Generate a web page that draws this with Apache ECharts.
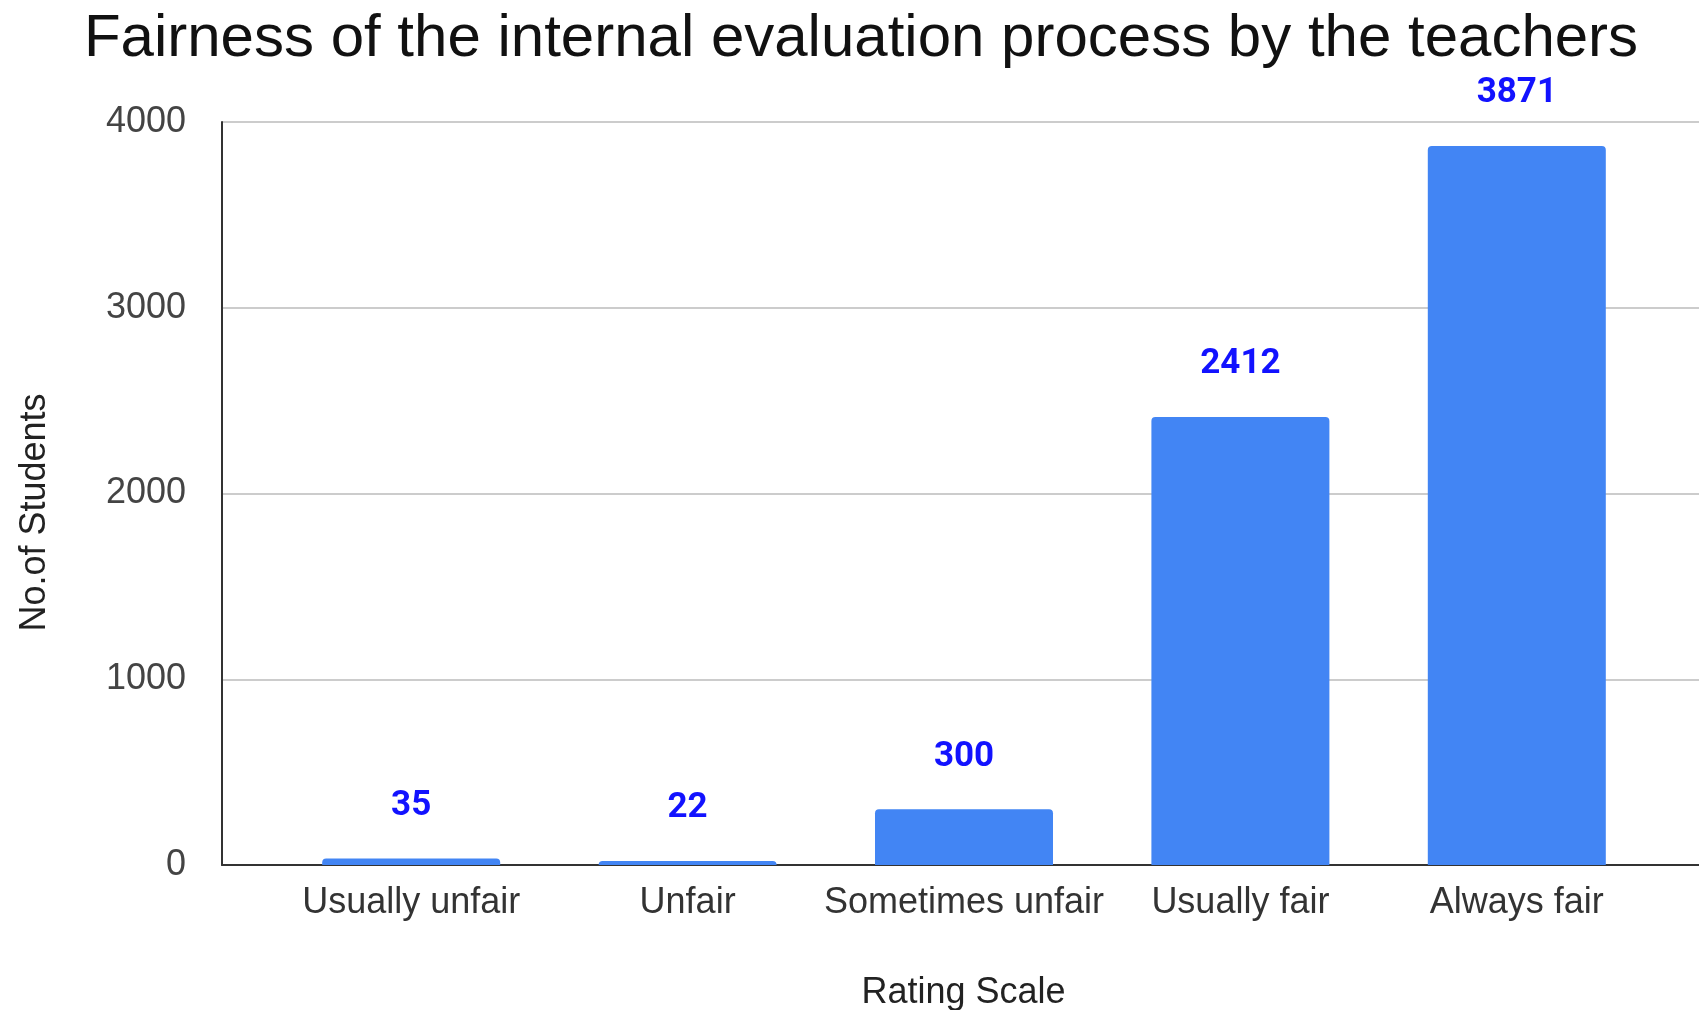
<!DOCTYPE html>
<html>
<head>
<meta charset="utf-8">
<script src="https://cdn.jsdelivr.net/npm/echarts@6/dist/echarts.min.js"></script>
<style>
  html, body { margin: 0; padding: 0; background: #fff; }
  #chart { width: 1699px; height: 1010px; }
</style>
</head>
<body>
<div id="chart"></div>
<script>
const categories = ['Usually unfair', 'Unfair', 'Sometimes unfair', 'Usually fair', 'Always fair'];
const students = [35, 22, 300, 2412, 3871];
const yTicks = [0, 1000, 2000, 3000, 4000];

const myChart = echarts.init(document.getElementById('chart'));
const font = 'Arial, "Liberation Sans", sans-serif';
const option = {
    animation: false,
    title: {
        text: 'Fairness of the internal evaluation process by the teachers',
        left: 856,
        top: 4,
        textAlign: 'center',
        textStyle: { fontFamily: font, fontSize: 60, fontWeight: 'normal', color: '#111' }
    },
    grid: [
        { left: 222, right: 0, top: 122, bottom: 145, outerBoundsMode: 'none', containLabel: false },
        { left: 273, right: 44, top: 122, bottom: 145, outerBoundsMode: 'none', containLabel: false }
    ],
    xAxis: [
        {
            gridIndex: 0,
            type: 'value',
            min: 0,
            max: 1,
            name: 'Rating Scale',
            nameLocation: 'middle',
            nameGap: 110,
            nameTextStyle: { fontFamily: font, fontSize: 36, color: '#222', padding: [0, 0, 0, 6] },
            axisLine: { show: true, onZero: false, lineStyle: { color: '#333', width: 2 } },
            axisTick: { show: false },
            axisLabel: { show: false },
            splitLine: { show: false }
        },
        {
            gridIndex: 1,
            type: 'category',
            data: categories,
            axisLine: { show: false },
            axisTick: { show: false },
            axisLabel: { interval: 0, margin: 20, fontFamily: font, fontSize: 36, color: '#333' }
        }
    ],
    yAxis: [
        {
            gridIndex: 0,
            type: 'value',
            min: yTicks[0],
            max: yTicks[yTicks.length - 1],
            interval: 1000,
            name: 'No.of Students',
            nameLocation: 'middle',
            nameGap: 169,
            nameTextStyle: { fontFamily: font, fontSize: 36, color: '#222', padding: [0, 38, 0, 0] },
            axisLine: { show: true, lineStyle: { color: '#333', width: 2 } },
            axisTick: { show: false },
            axisLabel: {
                margin: 36,
                fontFamily: font,
                fontSize: 36,
                color: '#444',
                formatter: function (v) { return String(v); }
            },
            splitLine: { lineStyle: { color: '#ccc', width: 2 } }
        },
        {
            gridIndex: 1,
            type: 'value',
            min: yTicks[0],
            max: yTicks[yTicks.length - 1],
            interval: 1000,
            show: false,
            splitLine: { show: false }
        }
    ],
    series: [
        {
            type: 'bar',
            xAxisIndex: 1,
            yAxisIndex: 1,
            data: students,
            barWidth: 178,
            itemStyle: { color: '#4285f4', borderRadius: [4, 4, 0, 0] },
            label: {
                show: true,
                position: 'top',
                distance: 35,
                fontFamily: 'Roboto, Arial, sans-serif',
                fontWeight: 'bold',
                fontSize: 35,
                color: '#1212ff'
            }
        }
    ]
};
myChart.setOption(option);
</script>
</body>
</html>
